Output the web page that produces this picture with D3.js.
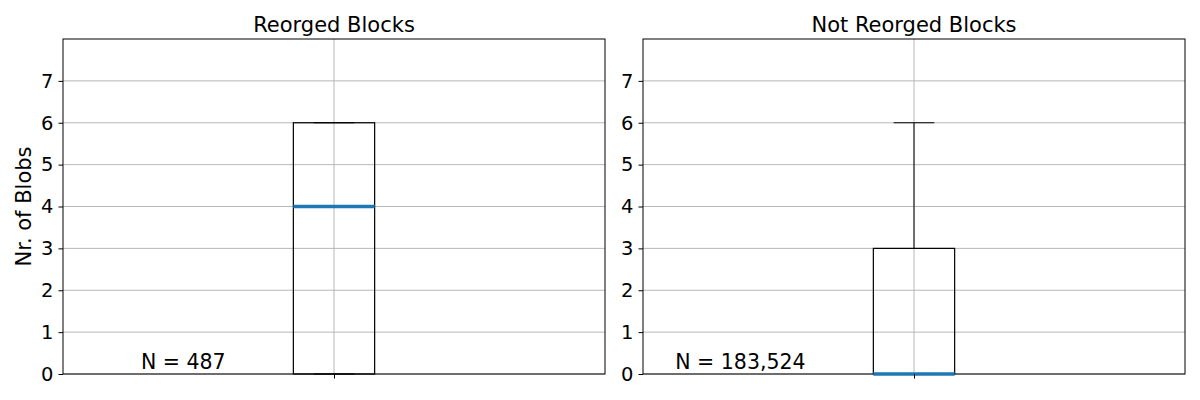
<!DOCTYPE html>
<html>
<head>
<meta charset="utf-8">
<script src="https://cdn.jsdelivr.net/npm/d3@7"></script>
<style>
  body { margin: 0; background: #fff; }
  svg text { font-family: "DejaVu Sans", sans-serif; fill: #000; }
</style>
</head>
<body>
<div id="chart"></div>
<script>
// panel data (box stats)
const titles = ["Reorged Blocks", "Not Reorged Blocks"];
const counts = ["N = 487", "N = 183,524"];
const whiskLo = [0, 0];
const q1 = [0, 0];
const medians = [4, 0];
const q3 = [6, 3];
const whiskHi = [6, 6];
const yTicks = [0, 1, 2, 3, 4, 5, 6, 7];

const W = 1200, H = 400;
const panelsX = [63, 643], pw = 542;
const plotTop = 39, plotBottom = 374;

const svg = d3.select("#chart").append("svg")
  .attr("width", W).attr("height", H);

const y = d3.scaleLinear().domain([0, 8]).range([plotBottom, plotTop]);

titles.forEach((t, i) => {
  const x = d3.scaleLinear().domain([0.5, 1.5]).range([panelsX[i], panelsX[i] + pw]);
  const g = svg.append("g");

  // grid
  g.selectAll(".hgrid").data(yTicks).enter().append("line")
    .attr("x1", x(0.5)).attr("x2", x(1.5))
    .attr("y1", d => y(d)).attr("y2", d => y(d))
    .attr("stroke", "#b0b0b0").attr("stroke-width", 0.9);
  g.append("line")
    .attr("x1", x(1)).attr("x2", x(1)).attr("y1", plotTop).attr("y2", plotBottom)
    .attr("stroke", "#b0b0b0").attr("stroke-width", 0.9);

  // frame
  g.append("rect")
    .attr("x", x(0.5)).attr("y", plotTop).attr("width", pw).attr("height", plotBottom - plotTop)
    .attr("fill", "none").attr("stroke", "#000").attr("stroke-width", 1);

  const bw = 0.15;
  // whiskers
  g.append("line").attr("x1", x(1)).attr("x2", x(1))
    .attr("y1", y(q3[i])).attr("y2", y(whiskHi[i]))
    .attr("stroke", "#000").attr("stroke-width", 1);
  g.append("line").attr("x1", x(1)).attr("x2", x(1))
    .attr("y1", y(q1[i])).attr("y2", y(whiskLo[i]))
    .attr("stroke", "#000").attr("stroke-width", 1);
  // caps
  [whiskLo[i], whiskHi[i]].forEach(v => {
    g.append("line").attr("x1", x(1 - bw / 4)).attr("x2", x(1 + bw / 4))
      .attr("y1", y(v)).attr("y2", y(v))
      .attr("stroke", "#000").attr("stroke-width", 1);
  });
  // box
  g.append("rect")
    .attr("x", x(1 - bw / 2)).attr("width", x(1 + bw / 2) - x(1 - bw / 2))
    .attr("y", y(q3[i])).attr("height", y(q1[i]) - y(q3[i]))
    .attr("fill", "none").attr("stroke", "#000").attr("stroke-width", 1.2);
  // median
  g.append("line").attr("x1", x(1 - bw / 2)).attr("x2", x(1 + bw / 2))
    .attr("y1", y(medians[i])).attr("y2", y(medians[i]))
    .attr("stroke", "#1f77b4").attr("stroke-width", 3.5);

  // axes
  const yAxis = d3.axisLeft(y).tickValues(yTicks).tickSize(4.5).tickPadding(5).tickFormat(d3.format("d"));
  g.append("g").attr("transform", `translate(${x(0.5)},0)`).call(yAxis)
    .call(a => a.select(".domain").remove())
    .call(a => a.selectAll("text").style("font-size", "19.5px"));
  const xAxis = d3.axisBottom(x).tickValues([1]).tickSize(4.5).tickFormat("");
  g.append("g").attr("transform", `translate(0,${plotBottom})`).call(xAxis)
    .call(a => a.select(".domain").remove());

  // title
  g.append("text").attr("x", x(1)).attr("y", 32)
    .attr("text-anchor", "middle").style("font-size", "21px").text(t);

  // N label
  g.append("text").attr("x", x(0.8)).attr("y", y(0) - 5)
    .attr("text-anchor", "end").style("font-size", "20.5px").text(counts[i]);
});

svg.append("text")
  .attr("transform", `translate(31,${(plotTop + plotBottom) / 2}) rotate(-90)`)
  .attr("text-anchor", "middle").style("font-size", "21px").text("Nr. of Blobs");
</script>
</body>
</html>
